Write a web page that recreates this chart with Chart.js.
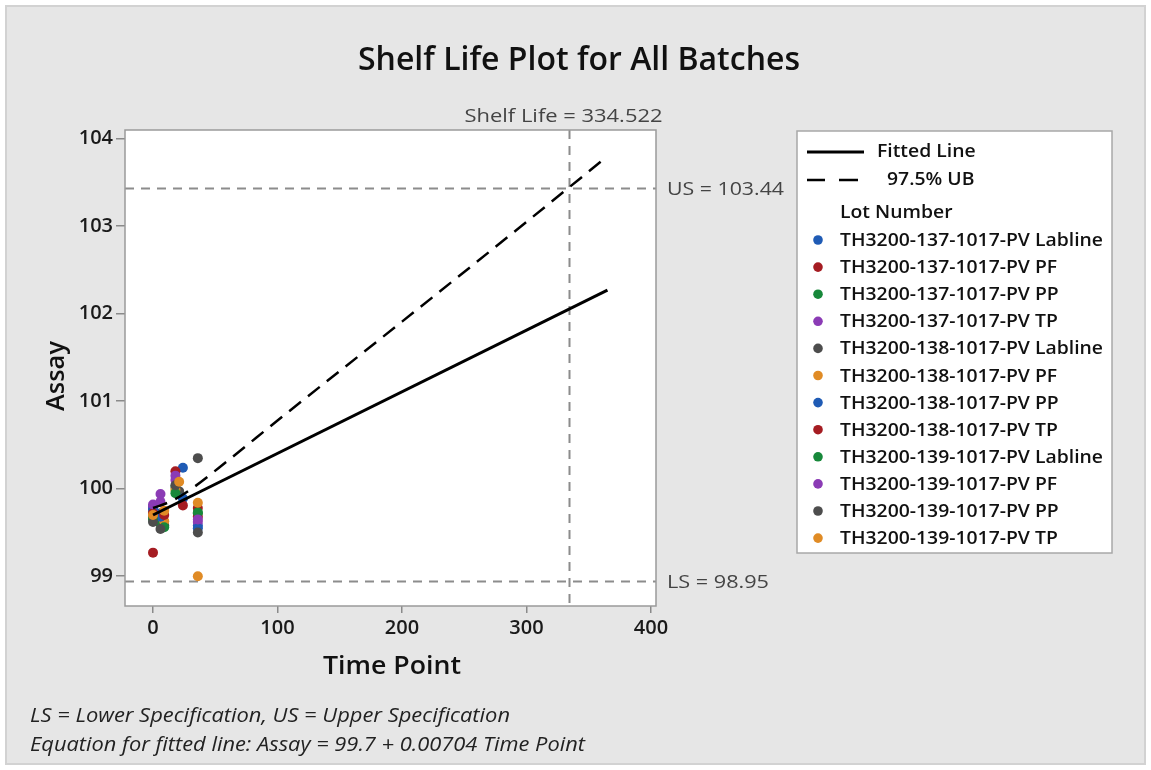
<!DOCTYPE html>
<html>
<head>
<meta charset="utf-8">
<script src="https://cdn.jsdelivr.net/npm/chart.js@4.4.0/dist/chart.umd.min.js"></script>
<style>
  body { margin: 0; background: #fff; }
  #wrap { width: 1151px; height: 770px; }
</style>
</head>
<body>
<div id="wrap"><canvas id="shelfLife" width="1151" height="770"></canvas></div>
<script>
// Dados (Time Point, Assay) por lote
const xTicks = [0, 100, 200, 300, 400];
const yTicks = [99, 100, 101, 102, 103, 104];

const lotNames = [
  'TH3200-137-1017-PV Labline', 'TH3200-137-1017-PV PF', 'TH3200-137-1017-PV PP', 'TH3200-137-1017-PV TP',
  'TH3200-138-1017-PV Labline', 'TH3200-138-1017-PV PF', 'TH3200-138-1017-PV PP', 'TH3200-138-1017-PV TP',
  'TH3200-139-1017-PV Labline', 'TH3200-139-1017-PV PF', 'TH3200-139-1017-PV PP', 'TH3200-139-1017-PV TP'
];
const lotColors = ['#1f5bb5', '#a51c22', '#17883a', '#8b3bb5', '#4d4d4d', '#e08b25',
                   '#1f5bb5', '#a51c22', '#17883a', '#8b3bb5', '#4d4d4d', '#e08b25'];

const lot137Lab = [[0, 99.80], [6, 99.72], [24, 100.24], [36, 99.58]];
const lot137PF  = [[0, 99.27], [6, 99.66], [18, 100.20], [36, 99.78]];
const lot137PP  = [[0, 99.70], [6, 99.60], [18, 100.02], [36, 99.72]];
const lot137TP  = [[0, 99.78], [6, 99.94], [18, 100.15], [36, 99.62]];
const lot138Lab = [[0, 99.68], [9, 99.58], [21, 99.97], [36, 100.35]];
const lot138PF  = [[0, 99.74], [9, 99.63], [18, 99.99], [36, 99.00]];
const lot138PP  = [[0, 99.76], [6, 99.68], [24, 99.89], [36, 99.55]];
const lot138TP  = [[0, 99.72], [9, 99.70], [24, 99.81], [36, 99.68]];
const lot139Lab = [[0, 99.65], [9, 99.56], [18, 99.95], [36, 99.73]];
const lot139PF  = [[0, 99.82], [6, 99.85], [18, 100.10], [36, 99.65]];
const lot139PP  = [[0, 99.62], [6, 99.54], [18, 100.04], [36, 99.50]];
const lot139TP  = [[0, 99.70], [9, 99.75], [21, 100.08], [36, 99.84]];
const lots = [lot137Lab, lot137PF, lot137PP, lot137TP, lot138Lab, lot138PF,
              lot138PP, lot138TP, lot139Lab, lot139PF, lot139PP, lot139TP];

const fittedLine = [[0, 99.7], [365, 102.27]];
const upperBound = [[0, 99.78], [15, 99.86], [30, 99.99], [60, 100.32], [100, 100.78],
                    [200, 101.91], [300, 103.05], [365, 103.80]];

const shelfLife = 334.522;
const upperSpec = 103.44;
const lowerSpec = 98.95;

function pares(lista) {
  return lista.map(function (p) { return { x: p[0], y: p[1] }; });
}

// Escreve o texto esticado/comprimido para a largura medida na figura
function textoNaLargura(ctx, texto, x, y, largura, alinhar) {
  let w = ctx.measureText(texto).width;
  let s = largura / w;
  ctx.save();
  ctx.translate(x, y);
  ctx.scale(s, 1);
  ctx.textAlign = alinhar || 'left';
  ctx.fillText(texto, 0, 0);
  ctx.restore();
}

const fundoPlugin = {
  id: 'fundo',
  beforeDraw: function (chart) {
    const ctx = chart.ctx;
    const a = chart.chartArea;
    ctx.save();
    ctx.fillStyle = '#ffffff';
    ctx.fillRect(0, 0, chart.width, chart.height);
    ctx.fillStyle = '#e6e6e6';
    ctx.fillRect(5, 5, chart.width - 10, chart.height - 10);
    ctx.strokeStyle = '#d2d2d2';
    ctx.lineWidth = 2;
    ctx.strokeRect(6, 6, chart.width - 12, chart.height - 12);
    ctx.fillStyle = '#ffffff';
    ctx.fillRect(a.left, a.top, a.right - a.left, a.bottom - a.top);
    ctx.restore();
  },
  beforeDatasetsDraw: function (chart) {
    // linhas de especificação e shelf life
    const ctx = chart.ctx;
    const a = chart.chartArea;
    const xs = chart.scales.x;
    const ys = chart.scales.y;
    ctx.save();
    ctx.strokeStyle = '#8c8c8c';
    ctx.lineWidth = 2;
    ctx.setLineDash([9, 7]);
    [upperSpec, lowerSpec].forEach(function (v) {
      let py = Math.round(ys.getPixelForValue(v)) + 0.5;
      ctx.beginPath();
      ctx.moveTo(a.left, py);
      ctx.lineTo(a.right, py);
      ctx.stroke();
    });
    let px = Math.round(xs.getPixelForValue(shelfLife)) + 0.5;
    ctx.beginPath();
    ctx.moveTo(px, a.top);
    ctx.lineTo(px, a.bottom);
    ctx.stroke();
    ctx.restore();
  },
  afterDraw: function (chart) {
    const ctx = chart.ctx;
    const a = chart.chartArea;
    const xs = chart.scales.x;
    const ys = chart.scales.y;
    ctx.save();
    // borda da área do gráfico
    ctx.strokeStyle = '#9a9a9a';
    ctx.lineWidth = 1.5;
    ctx.strokeRect(a.left, a.top, a.right - a.left, a.bottom - a.top);

    // título
    ctx.fillStyle = '#111';
    ctx.textBaseline = 'alphabetic';
    ctx.font = '600 32px "Open Sans"';
    textoNaLargura(ctx, 'Shelf Life Plot for All Batches', 579, 70, 442, 'center');

    // rótulos das linhas de referência
    ctx.fillStyle = '#444';
    ctx.font = '18px "Open Sans"';
    textoNaLargura(ctx, 'Shelf Life = ' + shelfLife.toFixed(3), xs.getPixelForValue(shelfLife) - 6, 122, 198, 'center');
    textoNaLargura(ctx, 'US = ' + upperSpec.toFixed(2), 667, ys.getPixelForValue(upperSpec) + 7, 117);
    textoNaLargura(ctx, 'LS = ' + lowerSpec.toFixed(2), 667, ys.getPixelForValue(lowerSpec) + 7, 102);

    // títulos dos eixos
    ctx.fillStyle = '#111';
    ctx.font = '600 25px "Open Sans"';
    textoNaLargura(ctx, 'Time Point', 392, 674, 138, 'center');
    ctx.save();
    ctx.translate(64, 376);
    ctx.rotate(-Math.PI / 2);
    textoNaLargura(ctx, 'Assay', 0, 0, 70, 'center');
    ctx.restore();

    // notas de rodapé
    ctx.fillStyle = '#222';
    ctx.font = 'italic 20px "Open Sans"';
    textoNaLargura(ctx, 'LS = Lower Specification, US = Upper Specification', 30, 722, 480);
    textoNaLargura(ctx, 'Equation for fitted line: Assay = 99.7 + 0.00704 Time Point', 30, 751, 555);

    // legenda
    ctx.fillStyle = '#ffffff';
    ctx.fillRect(797, 131, 315, 422);
    ctx.strokeStyle = '#a8a8a8';
    ctx.lineWidth = 1.5;
    ctx.strokeRect(797, 131, 315, 422);

    ctx.strokeStyle = '#000';
    ctx.lineWidth = 3;
    ctx.beginPath();
    ctx.moveTo(807, 152);
    ctx.lineTo(864, 152);
    ctx.stroke();
    ctx.lineWidth = 2.5;
    ctx.beginPath();
    ctx.moveTo(807, 180); ctx.lineTo(825, 180);
    ctx.moveTo(839, 180); ctx.lineTo(858, 180);
    ctx.stroke();

    ctx.font = '600 18px "Open Sans"';
    let escala = 263 / ctx.measureText(lotNames[4]).width;
    function txt(t, x, y) {
      textoNaLargura(ctx, t, x, y, ctx.measureText(t).width * escala);
    }
    ctx.fillStyle = '#111';
    txt('Fitted Line', 877, 157);
    txt('97.5% UB', 887, 185);
    txt('Lot Number', 840, 218);
    for (let i = 0; i < lotNames.length; i++) {
      let cy = 240 + i * 27.1;
      ctx.fillStyle = lotColors[i];
      ctx.beginPath();
      ctx.arc(818, cy, 4.8, 0, Math.PI * 2);
      ctx.fill();
      ctx.fillStyle = '#111';
      txt(lotNames[i], 840, cy + 6);
    }
    ctx.restore();
  }
};

let datasets = [];
for (let i = 0; i < lots.length; i++) {
  datasets.push({
    label: lotNames[i],
    data: pares(lots[i]),
    backgroundColor: lotColors[i],
    borderColor: lotColors[i],
    pointRadius: 5,
    pointBorderWidth: 0,
    order: 20 - i
  });
}
datasets.push({
  type: 'line',
  label: 'Fitted Line',
  data: pares(fittedLine),
  borderColor: '#000',
  borderWidth: 3,
  pointRadius: 0,
  fill: false,
  order: 0
});
datasets.push({
  type: 'line',
  label: '97.5% UB',
  data: pares(upperBound),
  borderColor: '#000',
  borderWidth: 2.5,
  borderDash: [15, 9],
  cubicInterpolationMode: 'monotone',
  pointRadius: 0,
  fill: false,
  order: 0
});

const config = {
  type: 'scatter',
  data: { datasets: datasets },
  options: {
    responsive: false,
    animation: false,
    layout: { padding: { top: 130, right: 495, bottom: 114, left: 0 } },
    plugins: { legend: { display: false }, tooltip: { enabled: false } },
    scales: {
      x: {
        type: 'linear',
        min: -22.5,
        max: 404,
        afterBuildTicks: function (scale) {
          scale.ticks = xTicks.map(function (v) { return { value: v }; });
        },
        afterFit: function (scale) { scale.height = 50; },
        grid: { drawOnChartArea: false, drawTicks: true, tickLength: 7, color: '#8a8a8a', lineWidth: 1.5 },
        border: { display: false },
        ticks: { color: '#1a1a1a', font: { family: 'Open Sans', size: 20, weight: '600' }, padding: 3, maxRotation: 0 }
      },
      y: {
        type: 'linear',
        min: 98.66,
        max: 104.1,
        afterBuildTicks: function (scale) {
          scale.ticks = yTicks.map(function (v) { return { value: v }; });
        },
        afterFit: function (scale) { scale.width = 125; },
        grid: { drawOnChartArea: false, drawTicks: true, tickLength: 9, color: '#8a8a8a', lineWidth: 1.5 },
        border: { display: false },
        ticks: { color: '#1a1a1a', font: { family: 'Open Sans', size: 20, weight: '600' }, padding: 3 }
      }
    }
  },
  plugins: [fundoPlugin]
};

let grafico = new Chart(document.getElementById('shelfLife'), config);
</script>
</body>
</html>
